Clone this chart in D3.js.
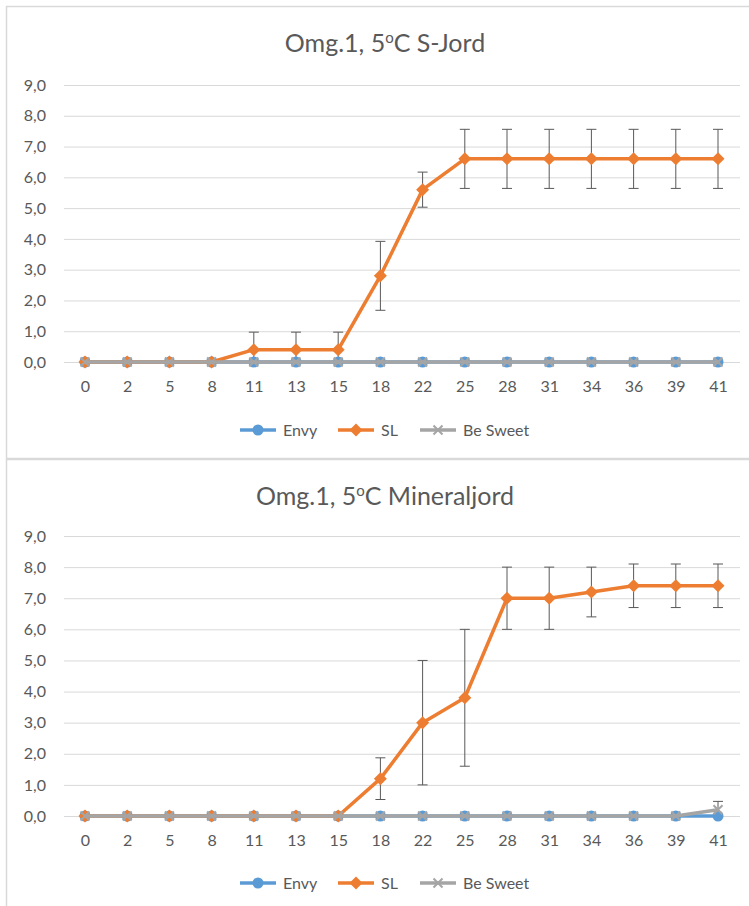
<!DOCTYPE html>
<html>
<head>
<meta charset="utf-8">
<script src="https://cdn.jsdelivr.net/npm/d3@7/dist/d3.min.js"></script>
<style>
  html, body { margin: 0; padding: 0; background: #fff; }
  svg { display: block; }
  text { font-family: Lato, "Open Sans", sans-serif; fill: #595959; }
</style>
</head>
<body>
<svg id="chart" width="749" height="906"></svg>
<script>
// Days after sowing
const days = ["0","2","5","8","11","13","15","18","22","25","28","31","34","36","39","41"];
const yTicks = [0,1,2,3,4,5,6,7,8,9];
const seriesNames = ["Envy", "SL", "Be Sweet"];

// Omg.1, 5°C S-Jord
const sjordEnvy    = [0,0,0,0,0,0,0,0,0,0,0,0,0,0,0,0];
const sjordSL      = [0,0,0,0,0.4,0.4,0.4,2.8,5.6,6.6,6.6,6.6,6.6,6.6,6.6,6.6];
const sjordSLErr   = [0,0,0,0,0.57,0.57,0.57,1.12,0.57,0.96,0.96,0.96,0.96,0.96,0.96,0.96];
const sjordSweet   = [0,0,0,0,0,0,0,0,0,0,0,0,0,0,0,0];
const sjordSweetErr= [0,0,0,0,0,0,0,0,0,0,0,0,0,0,0,0];

// Omg.1, 5°C Mineraljord
const minEnvy      = [0,0,0,0,0,0,0,0,0,0,0,0,0,0,0,0];
const minSL        = [0,0,0,0,0,0,0,1.2,3.0,3.8,7.0,7.0,7.2,7.4,7.4,7.4];
const minSLErr     = [0,0,0,0,0,0,0,0.67,2.0,2.2,1.0,1.0,0.8,0.7,0.7,0.7];
const minSweet     = [0,0,0,0,0,0,0,0,0,0,0,0,0,0,0,0.2];
const minSweetErr  = [0,0,0,0,0,0,0,0,0,0,0,0,0,0,0,0.27];

const colors = { "Envy": "#5B9BD5", "SL": "#ED7D31", "Be Sweet": "#A5A5A5" };

const svg = d3.select("#chart");

function drawPanel(cfg) {
  const g = svg.append("g");
  // chart frame
  g.append("rect")
    .attr("x", 6.5).attr("y", cfg.top + 0.5)
    .attr("width", 760).attr("height", cfg.frameH)
    .attr("fill", "#fff").attr("stroke", "#D9D9D9").attr("stroke-width", 1.5);

  // title with superscript degree sign
  const t = g.append("text")
    .attr("x", 385).attr("y", cfg.top + 46)
    .attr("text-anchor", "middle")
    .style("font-size", "25px");
  t.append("tspan").text("Omg.1, 5");
  t.append("tspan").attr("dy", -9).style("font-size", "15px").text("o");
  t.append("tspan").attr("dy", 9).text(cfg.subtitle);

  const x = d3.scalePoint().domain(days).range([85, 718]);
  const y = d3.scaleLinear().domain([0, 9]).range([cfg.y0, cfg.y9]);

  // horizontal gridlines
  g.append("g")
    .attr("transform", "translate(64,0)")
    .call(d3.axisLeft(y).tickValues(yTicks).tickSize(-676).tickFormat(d => d3.format(".1f")(d).replace(".", ",")))
    .call(a => a.select(".domain").remove())
    .call(a => a.selectAll(".tick line").attr("stroke", "#D9D9D9").attr("stroke-width", 1))
    .call(a => a.selectAll(".tick text").attr("x", -18).style("font-size", "16px").style("fill", "#595959"));

  // category axis labels
  g.append("g")
    .attr("transform", `translate(0,${cfg.y0})`)
    .call(d3.axisBottom(x).tickSize(0).tickPadding(19))
    .call(a => a.select(".domain").remove())
    .call(a => a.selectAll(".tick text").style("font-size", "16px").style("fill", "#595959"));

  const series = [
    { name: "Envy", vals: cfg.envy, err: null },
    { name: "SL", vals: cfg.sl, err: cfg.slErr },
    { name: "Be Sweet", vals: cfg.sweet, err: cfg.sweetErr }
  ];

  const clipId = "clip" + cfg.top;
  svg.append("clipPath").attr("id", clipId)
    .append("rect").attr("x", 60).attr("y", cfg.y9 - 20).attr("width", 690).attr("height", cfg.y0 - cfg.y9 + 20);

  // error bars
  series.forEach(s => {
    if (!s.err) return;
    const eg = g.append("g").attr("clip-path", `url(#${clipId})`);
    days.forEach((d, i) => {
      const e = s.err[i];
      if (!e) return;
      const cx = x(d), top = y(s.vals[i] + e), bot = y(s.vals[i] - e);
      eg.append("line").attr("x1", cx).attr("x2", cx).attr("y1", top).attr("y2", bot)
        .attr("stroke", "#595959").attr("stroke-width", 1);
      [top, bot].forEach(yy => eg.append("line")
        .attr("x1", cx - 5).attr("x2", cx + 5).attr("y1", yy).attr("y2", yy)
        .attr("stroke", "#595959").attr("stroke-width", 1));
    });
  });

  const line = d3.line().x((v, i) => x(days[i])).y(v => y(v));

  series.forEach(s => {
    const c = colors[s.name];
    g.append("path").datum(s.vals).attr("d", line)
      .attr("fill", "none").attr("stroke", c).attr("stroke-width", 3.5).attr("stroke-linejoin", "round");
    const mg = g.append("g");
    s.vals.forEach((v, i) => drawMarker(mg, s.name, x(days[i]), y(v)));
  });

  // legend
  const leg = g.append("g");
  const items = [
    { name: "Envy", x0: 240 },
    { name: "SL", x0: 338 },
    { name: "Be Sweet", x0: 420 }
  ];
  items.forEach(it => {
    const c = colors[it.name];
    leg.append("line").attr("x1", it.x0).attr("x2", it.x0 + 36)
      .attr("y1", cfg.legendY).attr("y2", cfg.legendY)
      .attr("stroke", c).attr("stroke-width", 3.5);
    drawMarker(leg, it.name, it.x0 + 18, cfg.legendY);
    leg.append("text").attr("x", it.x0 + 43).attr("y", cfg.legendY + 6)
      .style("font-size", "16px").text(it.name);
  });
}

function drawMarker(sel, name, cx, cy) {
  const c = colors[name];
  if (name === "Envy") {
    sel.append("circle").attr("cx", cx).attr("cy", cy).attr("r", 5.5).attr("fill", c);
  } else if (name === "SL") {
    const r = 6.5;
    sel.append("path").attr("d", `M${cx},${cy - r}L${cx + r},${cy}L${cx},${cy + r}L${cx - r},${cy}Z`).attr("fill", c);
  } else {
    const r = 4.5;
    sel.append("path").attr("d", `M${cx - r},${cy - r}L${cx + r},${cy + r}M${cx - r},${cy + r}L${cx + r},${cy - r}`)
      .attr("stroke", c).attr("stroke-width", 2);
  }
}

drawPanel({
  top: 6, frameH: 452, subtitle: "C S-Jord",
  y0: 362, y9: 85, legendY: 430,
  envy: sjordEnvy, sl: sjordSL, slErr: sjordSLErr, sweet: sjordSweet, sweetErr: sjordSweetErr
});

drawPanel({
  top: 459, frameH: 460, subtitle: "C Mineraljord",
  y0: 816, y9: 536, legendY: 883,
  envy: minEnvy, sl: minSL, slErr: minSLErr, sweet: minSweet, sweetErr: minSweetErr
});
</script>
</body>
</html>
